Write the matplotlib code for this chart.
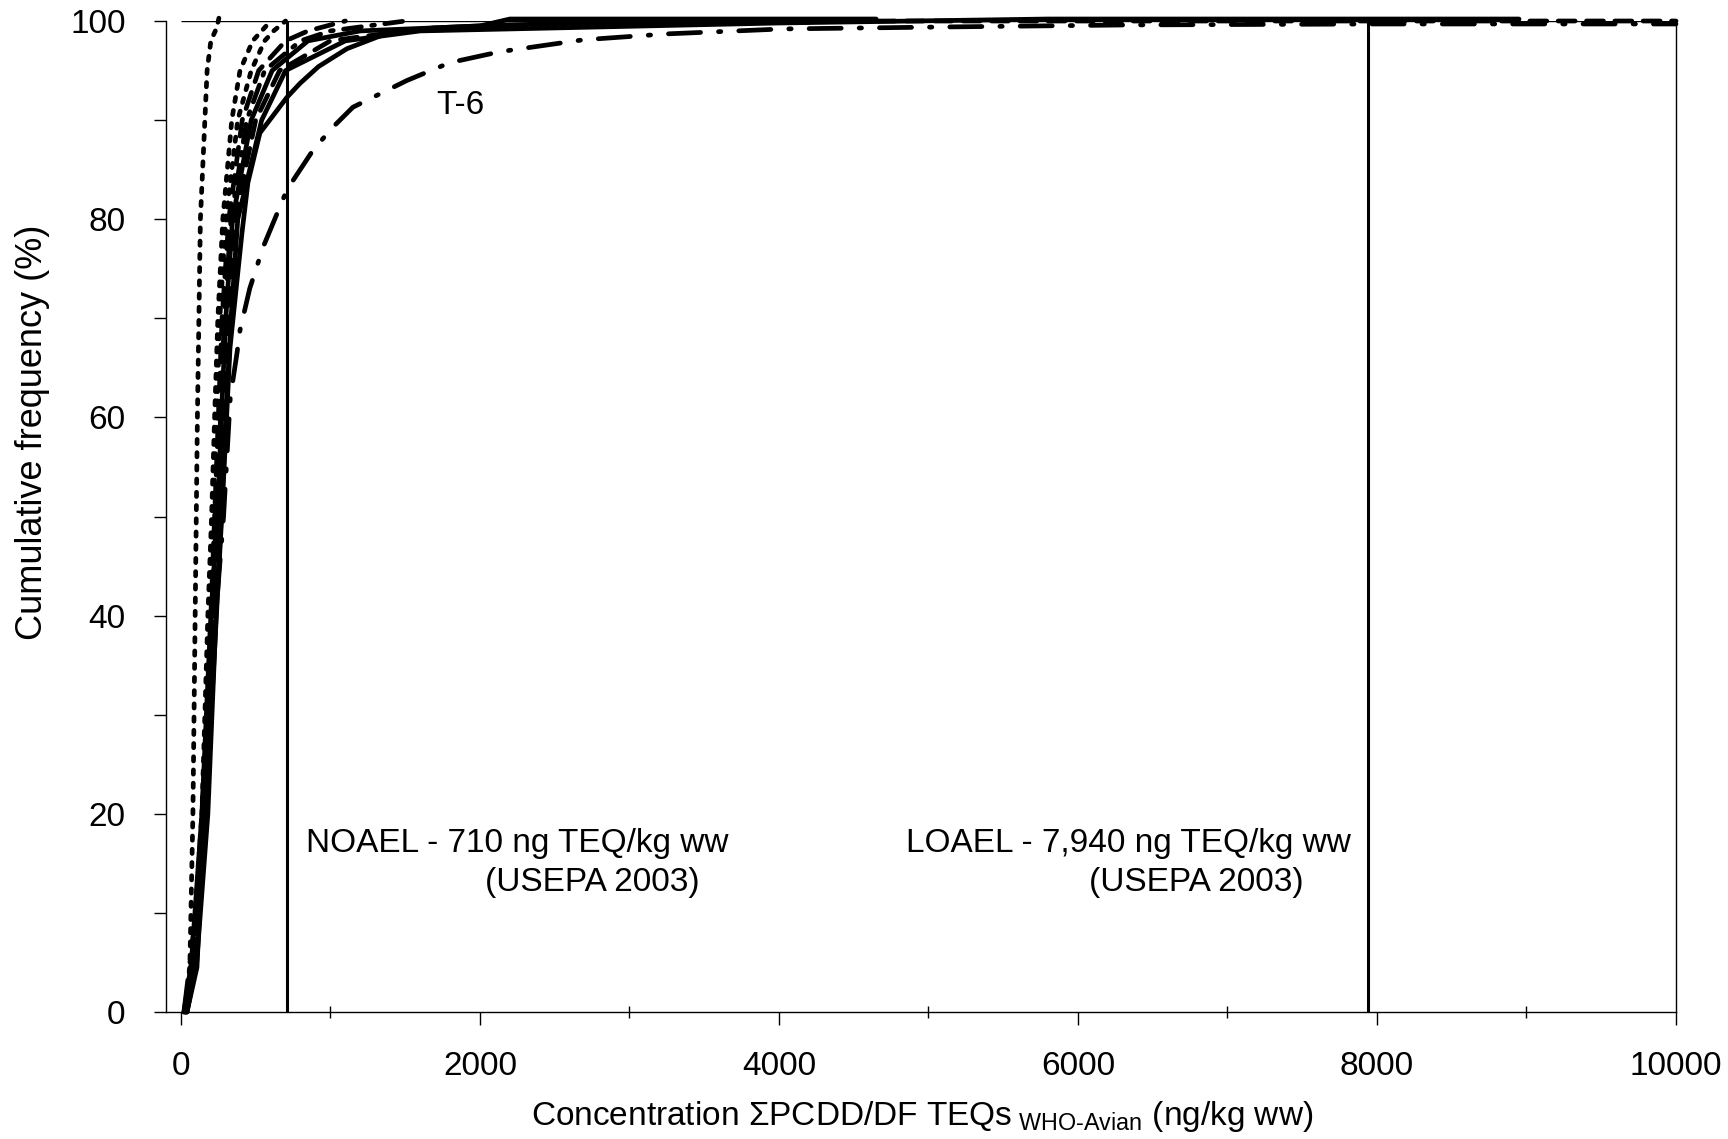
import matplotlib.pyplot as plt
from matplotlib.ticker import MultipleLocator

plt.rcParams['font.family'] = ['Liberation Sans', 'DejaVu Sans']
plt.rcParams['mathtext.fontset'] = 'custom'
plt.rcParams['mathtext.rm'] = 'Liberation Sans'
plt.rcParams['mathtext.it'] = 'Liberation Sans:italic'

# Cumulative frequency curves, concentration in ng/kg ww vs percent
freq_a = [0, 5, 20, 40, 60, 70, 80, 90, 95, 98, 99, 100, 100.9]
conc_a = [35, 60, 80, 95, 110, 120, 130, 160, 175, 200, 230, 250, 262]

freq_std = [0, 5, 20, 40, 50, 60, 70, 80, 90, 95, 98, 99, 100]
conc_b = [25, 75, 140, 180, 205, 225, 247, 280, 340, 395, 480, 540, 600]
conc_c = [30, 85, 150, 190, 215, 240, 260, 300, 380, 470, 560, 620, 700]
conc_d = [30, 90, 155, 200, 225, 250, 275, 320, 410, 520, 700, 850, 1100]
conc_e = [35, 95, 160, 210, 235, 265, 290, 335, 440, 560, 800, 1000, 1500]

freq_f = [0, 5, 20, 40, 50, 60, 70, 80, 90, 95, 98, 99, 99.5, 100.2, 100.2]
conc_f = [20, 70, 140, 200, 245, 270, 300, 345, 470, 610, 850, 1200, 2000, 2200, 4650]

freq_g = [0, 5, 20, 40, 50, 60, 70, 80, 90, 95, 98, 99, 99.7, 100, 100]
conc_g = [40, 100, 170, 225, 255, 285, 315, 360, 500, 660, 1000, 1500, 3000, 4700, 10000]

freq_h = [0, 5, 20, 40, 50, 60, 70, 80, 90, 95, 98, 99, 99.8, 100.2, 100.2]
conc_h = [40, 105, 180, 235, 270, 300, 335, 380, 540, 700, 1100, 1600, 4000, 5800, 8950]

freq_s1 = [0, 4.5, 21.4, 33.5, 50.4, 67, 71.8, 78.6, 83.7, 88.7, 92.3, 93.7,
           95.4, 97.2, 98.6, 99.3, 99.6, 99.8, 100]
conc_s1 = [40, 107, 160, 214, 274, 328, 361, 408, 448, 528, 709, 796,
           920, 1110, 1351, 1686, 2134, 2803, 3500]

freq_t6 = [0, 10, 30, 50, 62, 66.5, 68.8, 73, 77.2, 83, 87, 89.3, 91.3, 92.3,
           94, 95.8, 96.9, 98.1, 98.7, 99.2, 99.4, 99.6, 99.7, 99.7]
conc_t6 = [20, 100, 180, 285, 330, 375, 395, 460, 550, 710, 885, 1017, 1150, 1284,
           1512, 1799, 2134, 2689, 3250, 4027, 5117, 6314, 8000, 10000]

noael = 710
loael = 7940

lw = 3.4
fs = 24
dotted = dict(ls=(0, (0.9, 1.9)), dash_capstyle='round')
dashed = dict(ls=(0, (3.6, 2.4)), dash_capstyle='round')
dashdot = dict(ls=(0, (3.8, 2.2, 0.6, 2.2)), dash_capstyle='round')
t6_style = dict(ls=(0, (6.8, 3.8, 0.5, 3.8)), dash_capstyle='round')
solid = dict(ls='-', solid_capstyle='round')

fig = plt.figure(figsize=(17.28, 11.39), dpi=100)
ax = fig.add_axes([166 / 1728, 1 - 1012 / 1139, 1510 / 1728, 991 / 1139])

series = [
    (conc_a, freq_a, dotted),
    (conc_b, freq_std, dotted),
    (conc_c, freq_std, dotted),
    (conc_d, freq_std, dashed),
    (conc_e, freq_std, dashdot),
    (conc_f, freq_f, solid),
    (conc_g, freq_g, dashed),
    (conc_h, freq_h, solid),
    (conc_s1, freq_s1, solid),
    (conc_t6, freq_t6, t6_style),
]
for xs, ys, style in series:
    ax.plot(xs, ys, color='black', lw=lw, clip_on=False, **style)

ax.axvline(noael, color='black', lw=2.2)
ax.axvline(loael, color='black', lw=2.2)
ax.hlines(100, 0, 10000, color='black', lw=1.0)

ax.text(1866, 91.5, 'T-6', fontsize=fs, ha='center', va='center')
ax.text(836, 17.05, 'NOAEL - 710 ng TEQ/kg ww', fontsize=fs, va='center')
ax.text(2033, 13.1, '(USEPA 2003)', fontsize=fs, va='center')
ax.text(4849, 17.05, 'LOAEL - 7,940 ng TEQ/kg ww', fontsize=fs, va='center')
ax.text(6074, 13.1, '(USEPA 2003)', fontsize=fs, va='center')

ax.set_xlim(-100, 10000)
ax.set_ylim(0, 100)
ax.xaxis.set_major_locator(MultipleLocator(2000))
ax.xaxis.set_minor_locator(MultipleLocator(1000))
ax.yaxis.set_major_locator(MultipleLocator(20))
ax.yaxis.set_minor_locator(MultipleLocator(10))
ax.tick_params(which='both', direction='out', length=9, width=1.0,
               labelsize=fs, color='black')
ax.tick_params(axis='x', which='minor', direction='inout')
ax.tick_params(axis='x', which='both', pad=19)
ax.tick_params(axis='y', which='both', pad=20)

ax.spines['top'].set_visible(False)
for side in ('left', 'bottom', 'right'):
    ax.spines[side].set_linewidth(1.0)

ax.set_ylabel('Cumulative frequency (%)', fontsize=26)
ax.yaxis.set_label_coords(-0.077, 0.585)
ax.set_xlabel(r'Concentration $\Sigma$PCDD/DF TEQs$_{\text{ WHO-Avian}}$ (ng/kg ww)',
              fontsize=fs)
ax.xaxis.set_label_coords(0.501, -0.088)

fig.savefig('out.png', dpi=100)
